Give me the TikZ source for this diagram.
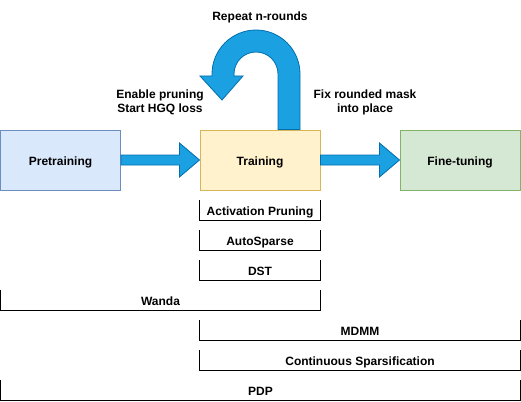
\documentclass[tikz,border=0pt]{standalone}
\usepackage{fontspec}
\setmainfont{Liberation Sans}
\usetikzlibrary{calc}
\definecolor{bluefill}{HTML}{DAE8FC}
\definecolor{bluedraw}{HTML}{6C8EBF}
\definecolor{yelfill}{HTML}{FFF2CC}
\definecolor{yeldraw}{HTML}{D6B656}
\definecolor{grnfill}{HTML}{D5E8D4}
\definecolor{grndraw}{HTML}{82B366}
\definecolor{arrfill}{HTML}{1BA1E2}
\definecolor{arrdraw}{HTML}{006EAF}
\tikzset{
  every node/.style={font=\fontsize{12}{14}\selectfont\bfseries, inner sep=0pt, text height=11pt, text depth=1pt},
  stagebox/.style={minimum width=120pt, minimum height=60pt, line width=1pt},
  blockarrow/.style={fill=arrfill, draw=arrdraw, line width=0.8pt},
  bracketnode/.style={minimum height=20pt},
  bracketline/.style={draw=black, line width=0.8pt},
  lbl/.style={align=center}
}
\begin{document}
\begin{tikzpicture}[x=1pt,y=-1pt]
\useasboundingbox (0,0) rectangle (521,401);
% stages
\node[stagebox, fill=bluefill, draw=bluedraw] (pre) at (60.5,160) {Pretraining};
\node[stagebox, fill=yelfill, draw=yeldraw] (train) at (260,160) {Training};
\node[stagebox, fill=grnfill, draw=grndraw] (fine) at (460,160) {Fine-tuning};
% block arrows
\draw[blockarrow] ([yshift=5pt]pre.east) -- ([xshift=-20pt,yshift=5pt]train.west)
  -- ([xshift=-20pt,yshift=17pt]train.west) -- (train.west)
  -- ([xshift=-20pt,yshift=-17pt]train.west) -- ([xshift=-20pt,yshift=-5pt]train.west)
  -- ([yshift=-5pt]pre.east) -- cycle;
\draw[blockarrow] ([yshift=5pt]train.east) -- ([xshift=-20pt,yshift=5pt]fine.west)
  -- ([xshift=-20pt,yshift=17pt]fine.west) -- (fine.west)
  -- ([xshift=-20pt,yshift=-17pt]fine.west) -- ([xshift=-20pt,yshift=-5pt]fine.west)
  -- ([yshift=-5pt]train.east) -- cycle;
% U-turn arrow
\coordinate (utip) at (222,100);
\draw[blockarrow] ([xshift=18pt]train.north) -- (278,74)
  arc[start angle=0, end angle=180, radius=22pt]
  -- (234,76) -- (243,76) -- (utip) -- (200,76) -- (212,76) -- (212,74)
  arc[start angle=180, end angle=0, radius=44pt]
  -- ([xshift=40pt]train.north) -- cycle;
% labels
\node[lbl] (rep) at (260,16) {Repeat n-rounds};
\node[lbl] (enable) at (160,108) {Enable pruning\\Start HGQ loss};
\node[lbl] (fix) at (365,108) {Fix rounded mask\\into place};
% brackets
\node[bracketnode, minimum width=120pt] (ap) at (260,210) {Activation Pruning};
\node[bracketnode, minimum width=120pt] (as) at (260,240) {AutoSparse};
\node[bracketnode, minimum width=120pt] (dst) at (260,270) {DST};
\node[bracketnode, minimum width=319pt] (wanda) at (160.5,300) {Wanda};
\node[bracketnode, minimum width=320pt] (mdmm) at (360,330) {MDMM};
\node[bracketnode, minimum width=320pt] (cs) at (360,360) {Continuous Sparsification};
\node[bracketnode, minimum width=519pt] (pdp) at (260.5,390) {PDP};
\foreach \b in {ap,as,dst,wanda,mdmm,cs,pdp}{
  \draw[bracketline] (\b.north west) -- (\b.south west) -- (\b.south east) -- (\b.north east);
}
\end{tikzpicture}
\end{document}
